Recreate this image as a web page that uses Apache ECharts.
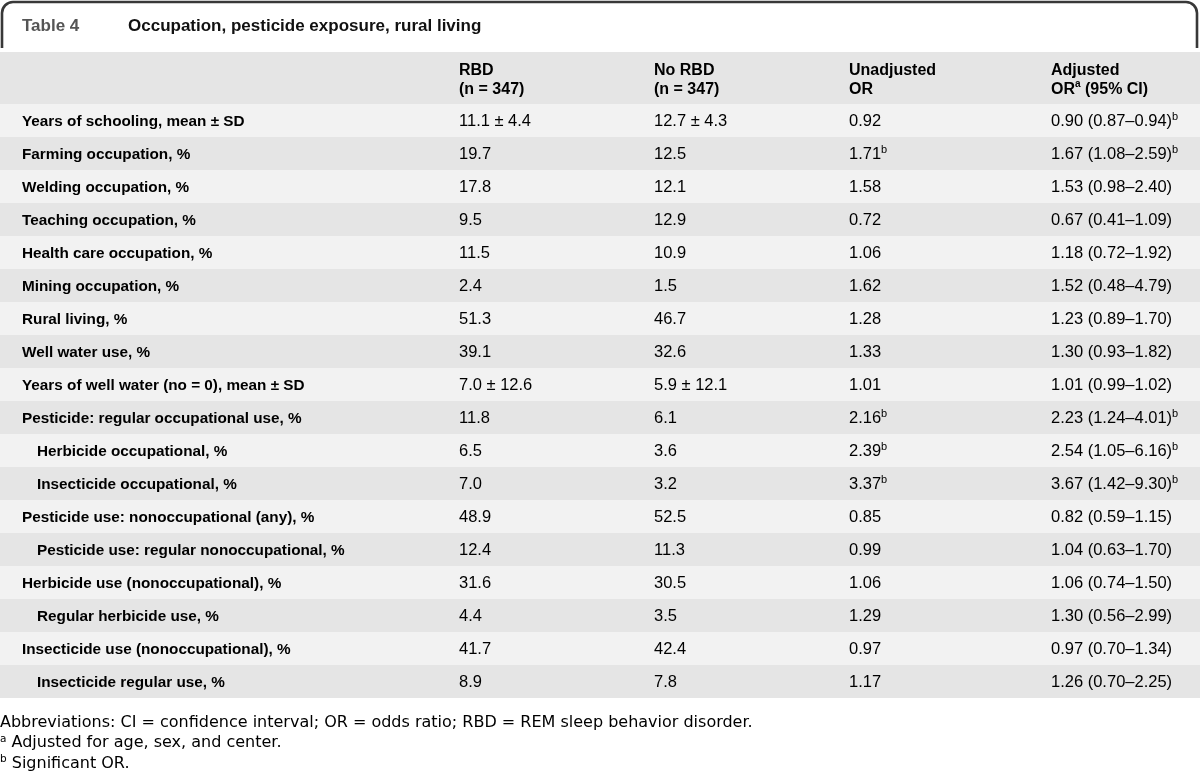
<!DOCTYPE html>
<html>
<head>
<meta charset="utf-8">
<style>
  html, body { margin: 0; padding: 0; background: #ffffff; }
  #chart { width: 1200px; height: 779px; }
</style>
<script src="https://cdn.jsdelivr.net/npm/echarts@6/dist/echarts.min.js"></script>
</head>
<body>
<div id="chart"></div>
<script>
// ---------- data ----------
const tableNumber = 'Table 4';
const tableTitle = 'Occupation, pesticide exposure, rural living';
const columnHeaders = [
  ['', ''],
  ['RBD', '(n = 347)'],
  ['No RBD', '(n = 347)'],
  ['Unadjusted', 'OR'],
  ['Adjusted', 'OR{s|a} (95% CI)']
];
const rowLabels = [
  'Years of schooling, mean ± SD',
  'Farming occupation, %',
  'Welding occupation, %',
  'Teaching occupation, %',
  'Health care occupation, %',
  'Mining occupation, %',
  'Rural living, %',
  'Well water use, %',
  'Years of well water (no = 0), mean ± SD',
  'Pesticide: regular occupational use, %',
  'Herbicide occupational, %',
  'Insecticide occupational, %',
  'Pesticide use: nonoccupational (any), %',
  'Pesticide use: regular nonoccupational, %',
  'Herbicide use (nonoccupational), %',
  'Regular herbicide use, %',
  'Insecticide use (nonoccupational), %',
  'Insecticide regular use, %'
];
const subRow = [false, false, false, false, false, false, false, false, false, false,
                true, true, false, true, false, true, false, true];
const rbdValues = ['11.1 ± 4.4', '19.7', '17.8', '9.5', '11.5', '2.4', '51.3', '39.1',
                   '7.0 ± 12.6', '11.8', '6.5', '7.0', '48.9', '12.4', '31.6', '4.4', '41.7', '8.9'];
const noRbdValues = ['12.7 ± 4.3', '12.5', '12.1', '12.9', '10.9', '1.5', '46.7', '32.6',
                     '5.9 ± 12.1', '6.1', '3.6', '3.2', '52.5', '11.3', '30.5', '3.5', '42.4', '7.8'];
const unadjustedOR = ['0.92', '1.71', '1.58', '0.72', '1.06', '1.62', '1.28', '1.33', '1.01',
                      '2.16', '2.39', '3.37', '0.85', '0.99', '1.06', '1.29', '0.97', '1.17'];
const unadjustedSig = [false, true, false, false, false, false, false, false, false,
                       true, true, true, false, false, false, false, false, false];
const adjustedOR = ['0.90', '1.67', '1.53', '0.67', '1.18', '1.52', '1.23', '1.30', '1.01',
                    '2.23', '2.54', '3.67', '0.82', '1.04', '1.06', '1.30', '0.97', '1.26'];
const ciLow = ['0.87', '1.08', '0.98', '0.41', '0.72', '0.48', '0.89', '0.93', '0.99',
               '1.24', '1.05', '1.42', '0.59', '0.63', '0.74', '0.56', '0.70', '0.70'];
const ciHigh = ['0.94', '2.59', '2.40', '1.09', '1.92', '4.79', '1.70', '1.82', '1.02',
                '4.01', '6.16', '9.30', '1.15', '1.70', '1.50', '2.99', '1.34', '2.25'];
const adjustedSig = [true, true, false, false, false, false, false, false, false,
                     true, true, true, false, false, false, false, false, false];
const footnotes = [
  'Abbreviations: CI = confidence interval; OR = odds ratio; RBD = REM sleep behavior disorder.',
  '{s|a} Adjusted for age, sex, and center.',
  '{s|b} Significant OR.'
];

// ---------- layout / style ----------
const W = 1200;
const FONT = '"Liberation Sans", Arial, sans-serif';
const FOOT_FONT = '"DejaVu Sans", sans-serif';
const colX = [22, 459, 654, 849, 1051];
const indent = 15;
const rowTop = 104, rowH = 33;
const LIGHT = '#f2f2f2', DARK = '#e5e5e5';
const TXT = '#1a1a1a';

function richSet(font, size, weight, supSize) {
  return {
    v: { fontSize: size, fontFamily: font, fontWeight: weight, color: TXT, verticalAlign: 'bottom', lineHeight: 18 },
    s: { fontSize: supSize, fontFamily: font, fontWeight: weight, color: TXT, verticalAlign: 'top', lineHeight: 12 }
  };
}
const richNum = richSet(FONT, 16.5, 'normal', 11);
const richLabel = richSet(FONT, 15.3, 'bold', 10);
const richHead = richSet(FONT, 16, 'bold', 10);
const richFoot = richSet(FOOT_FONT, 16, 'normal', 10.5);

function rt(str) {
  // wrap plain parts in {v|...}, keep {s|x} superscript tokens
  return str.split(/(\{s\|[^}]*\})/).filter(p => p.length)
    .map(p => p.startsWith('{s|') ? p : '{v|' + p + '}').join('');
}

const chart = echarts.init(document.getElementById('chart'), null, { renderer: 'canvas' });

const graphics = [];
// top tab frame
graphics.push({
  type: 'rect', z: 1,
  shape: { x: 2, y: 2, width: 1195, height: 70, r: [11, 11, 0, 0] },
  style: { fill: '#ffffff', stroke: '#383838', lineWidth: 2.6 }
});
graphics.push({
  type: 'rect', z: 2,
  shape: { x: 0, y: 48, width: W, height: 56 },
  style: { fill: '#ffffff' }
});
graphics.push({
  type: 'rect', z: 3,
  shape: { x: 0, y: 52, width: W, height: 52 },
  style: { fill: DARK }
});
graphics.push({
  type: 'text', z: 4, x: 22, y: 26,
  style: { text: tableNumber, font: 'bold 17px ' + FONT, fill: '#555555', verticalAlign: 'middle' }
});
graphics.push({
  type: 'text', z: 4, x: 128, y: 26,
  style: { text: tableTitle, font: 'bold 17px ' + FONT, fill: '#111111', verticalAlign: 'middle' }
});
columnHeaders.forEach((h, c) => {
  if (!h[0]) return;
  [h[0], h[1]].forEach((line, k) => {
    graphics.push({
      type: 'text', z: 4, x: colX[c], y: 70 + k * 18.5,
      style: { text: rt(line), verticalAlign: 'middle', rich: richHead }
    });
  });
});
footnotes.forEach((t, i) => {
  graphics.push({
    type: 'text', z: 4, x: 0, y: 722 + i * 20.3,
    style: { text: rt(t), verticalAlign: 'middle', rich: richFoot }
  });
});

const option = {
  animation: false,
  backgroundColor: '#ffffff',
  grid: { left: 0, right: 0, top: rowTop, height: rowH * rowLabels.length },
  xAxis: { type: 'value', min: 0, max: W, show: false },
  yAxis: { type: 'category', data: rowLabels, inverse: true, show: false },
  graphic: graphics,
  series: [{
    type: 'custom',
    data: rowLabels.map((l, i) => [0, i]),
    encode: { x: 0, y: 1 },
    renderItem: function (params, api) {
      const i = params.dataIndex;
      const c = api.coord([0, i]);
      const h = api.size([0, 1])[1];
      const y = c[1];
      const xs = colX.map(x => api.coord([x, i])[0]);
      const cell = (x, str, rich) => ({
        type: 'text', x: x, y: y,
        style: { text: rt(str), verticalAlign: 'middle', rich: rich }
      });
      const children = [{
        type: 'rect',
        shape: { x: c[0], y: y - h / 2, width: api.coord([W, i])[0] - c[0], height: h },
        style: { fill: i % 2 === 0 ? LIGHT : DARK }
      },
        cell(xs[0] + (subRow[i] ? indent : 0), rowLabels[i], richLabel),
        cell(xs[1], rbdValues[i], richNum),
        cell(xs[2], noRbdValues[i], richNum),
        cell(xs[3], unadjustedOR[i] + (unadjustedSig[i] ? '{s|b}' : ''), richNum),
        cell(xs[4], adjustedOR[i] + ' (' + ciLow[i] + '–' + ciHigh[i] + ')' + (adjustedSig[i] ? '{s|b}' : ''), richNum)
      ];
      return { type: 'group', children: children };
    }
  }]
};
chart.setOption(option);
</script>
</body>
</html>
